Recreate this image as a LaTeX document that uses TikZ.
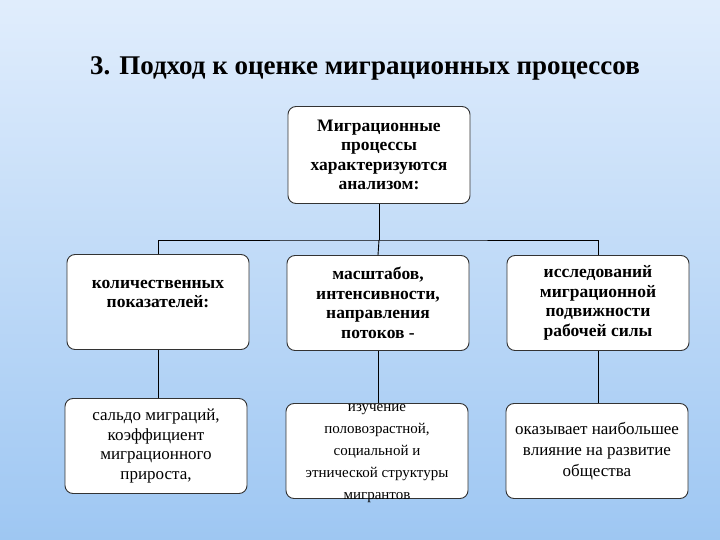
\documentclass[tikz,border=0pt]{standalone}
\usepackage{fontspec}
\setmainfont{Liberation Serif}
\begin{document}
\begin{tikzpicture}[x=1pt,y=-1pt,
  box/.style={draw=black!80,line width=0.9pt,fill=white,rounded corners=8pt,minimum width=182pt,minimum height=95pt,inner sep=1pt,align=center,font=\bfseries\fontsize{17.5}{19.5}\selectfont},
  lbox/.style={box,font=\fontsize{17}{19.5}\selectfont},
  conn/.style={line width=0.9pt,black}]
\shade[top color={rgb,1:red,0.88;green,0.93;blue,0.99},bottom color={rgb,1:red,0.62;green,0.78;blue,0.95}] (0,0) rectangle (720,540);
\useasboundingbox (0,0) rectangle (720,540);
\node[font=\bfseries\fontsize{27}{30}\selectfont] (title) at (365,68) {3. Подход к оценке миграционных процессов};
\node[box,minimum height=97pt] (top) at (379,155) {Миграционные\\процессы\\характеризуются\\анализом:};
\node[box] (a) at (158,302) {};
\node[box,draw=none,fill=none] (at) at (158,294) {количественных\\показателей:};
\node[box] (b) at (378,303) {масштабов,\\интенсивности,\\направления\\потоков -};
\node[box] (c) at (598,303) {исследований\\миграционной\\подвижности\\рабочей силы};
\node[lbox] (d) at (156,446) {сальдо миграций,\\коэффициент\\миграционного\\прироста,};
\node[box] (e) at (377,451) {};
\node[lbox,draw=none,fill=none,font=\fontsize{15}{22}\selectfont] (et) at (377,454) {изучение\\половозрастной,\\социальной и\\этнической структуры\\мигрантов};
\node[lbox,font=\fontsize{17}{21}\selectfont] (f) at (597,451) {оказывает наибольшее\\влияние на развитие\\общества};
\coordinate (j) at (379,240);
\draw[conn] (top.south) -- (j);
\draw[conn] (a.north) |- (j) -| (c.north);
\draw[conn] (j) -- (b.north);
\draw[conn] (a.south) -- (a.south |- d.north);
\draw[conn] (b.south) -- (b.south |- e.north);
\draw[conn] (c.south) -- (c.south |- f.north);
\end{tikzpicture}
\end{document}
